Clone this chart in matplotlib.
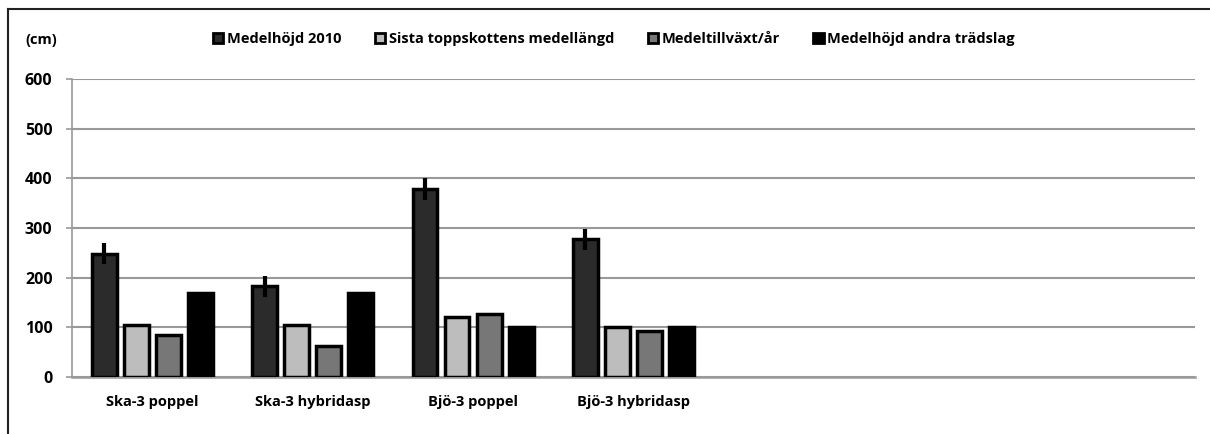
import matplotlib

matplotlib.use("Agg")
import matplotlib.pyplot as plt
from matplotlib.patches import Rectangle
from matplotlib.lines import Line2D
import numpy as np

# data (cm)
categories = ["Ska-3 poppel", "Ska-3 hybridasp", "Bjö-3 poppel", "Bjö-3 hybridasp", "", "", ""]
series_names = ["Medelhöjd 2010", "Sista toppskottens medellängd",
                "Medeltillväxt/år", "Medelhöjd andra trädslag"]
medelhojd = [248, 183, 378, 277]
medelhojd_err = [21, 21, 22, 21]
toppskott = [105, 105, 120, 100]
tillvaxt = [84, 62, 127, 93]
andra = [170, 170, 100, 100]
colors = ["#2b2b2b", "#bdbdbd", "#777777", "#000000"]
y_ticks = [0, 100, 200, 300, 400, 500, 600]

plt.rcParams["font.family"] = ["Open Sans", "DejaVu Sans"]
plt.rcParams["font.weight"] = "bold"
fs = 10.5

fig = plt.figure(figsize=(12.1, 4.34), dpi=100)
ax = fig.add_axes([72 / 1210, 1 - 377 / 434, 1123 / 1210, 298 / 434])

x = np.arange(len(categories))
n = len(medelhojd)
step = 0.2
width = 0.155
all_series = [medelhojd, toppskott, tillvaxt, andra]
for i, vals in enumerate(all_series):
    pos = x[:n] + (i - 1.5) * step
    ax.bar(pos, vals, width, color=colors[i], edgecolor="black", linewidth=2.5, zorder=3)
    if i == 0:
        ax.errorbar(pos, vals, yerr=medelhojd_err, fmt="none", ecolor="black",
                    elinewidth=3, capsize=0, zorder=4)

ax.set_xlim(-0.5, len(categories) - 0.5)
ax.set_ylim(0, 600)
ax.set_yticks(y_ticks)
ax.set_xticks(x)
ax.set_xticklabels(categories, fontsize=fs, fontweight="bold")
ax.tick_params(axis="x", length=0, pad=13)
ax.tick_params(axis="y", length=4, color="#999999", width=1.2, labelsize=11.5, pad=10)
ax.grid(axis="y", color="#999999", linewidth=1.5, zorder=0)
for s in ["top", "right"]:
    ax.spines[s].set_visible(False)
ax.spines["left"].set_color("#999999")
ax.spines["bottom"].set_color("#999999")
ax.spines["left"].set_linewidth(1.2)
ax.spines["bottom"].set_linewidth(1.8)

fig.text(25 / 1210, 1 - 40 / 434, "(cm)", fontsize=fs, fontweight="bold", va="center")

handles = [Rectangle((0, 0), 1, 1, facecolor=c, edgecolor="black", linewidth=2) for c in colors]
fig.legend(handles, series_names, loc="center", bbox_to_anchor=(614 / 1210, 1 - 39 / 434),
           ncol=4, frameon=False, handlelength=0.7, handleheight=0.7,
           handletextpad=0.25, columnspacing=2.3, prop={"weight": "bold", "size": fs})

# outer frame (left and top only)
fig.add_artist(Line2D([8 / 1210, 8 / 1210], [0, 1 - 9 / 434], color="#222222", linewidth=1.5))
fig.add_artist(Line2D([8 / 1210, 1], [1 - 9 / 434, 1 - 9 / 434], color="#222222", linewidth=1.5))

fig.savefig("out.png", dpi=100)
